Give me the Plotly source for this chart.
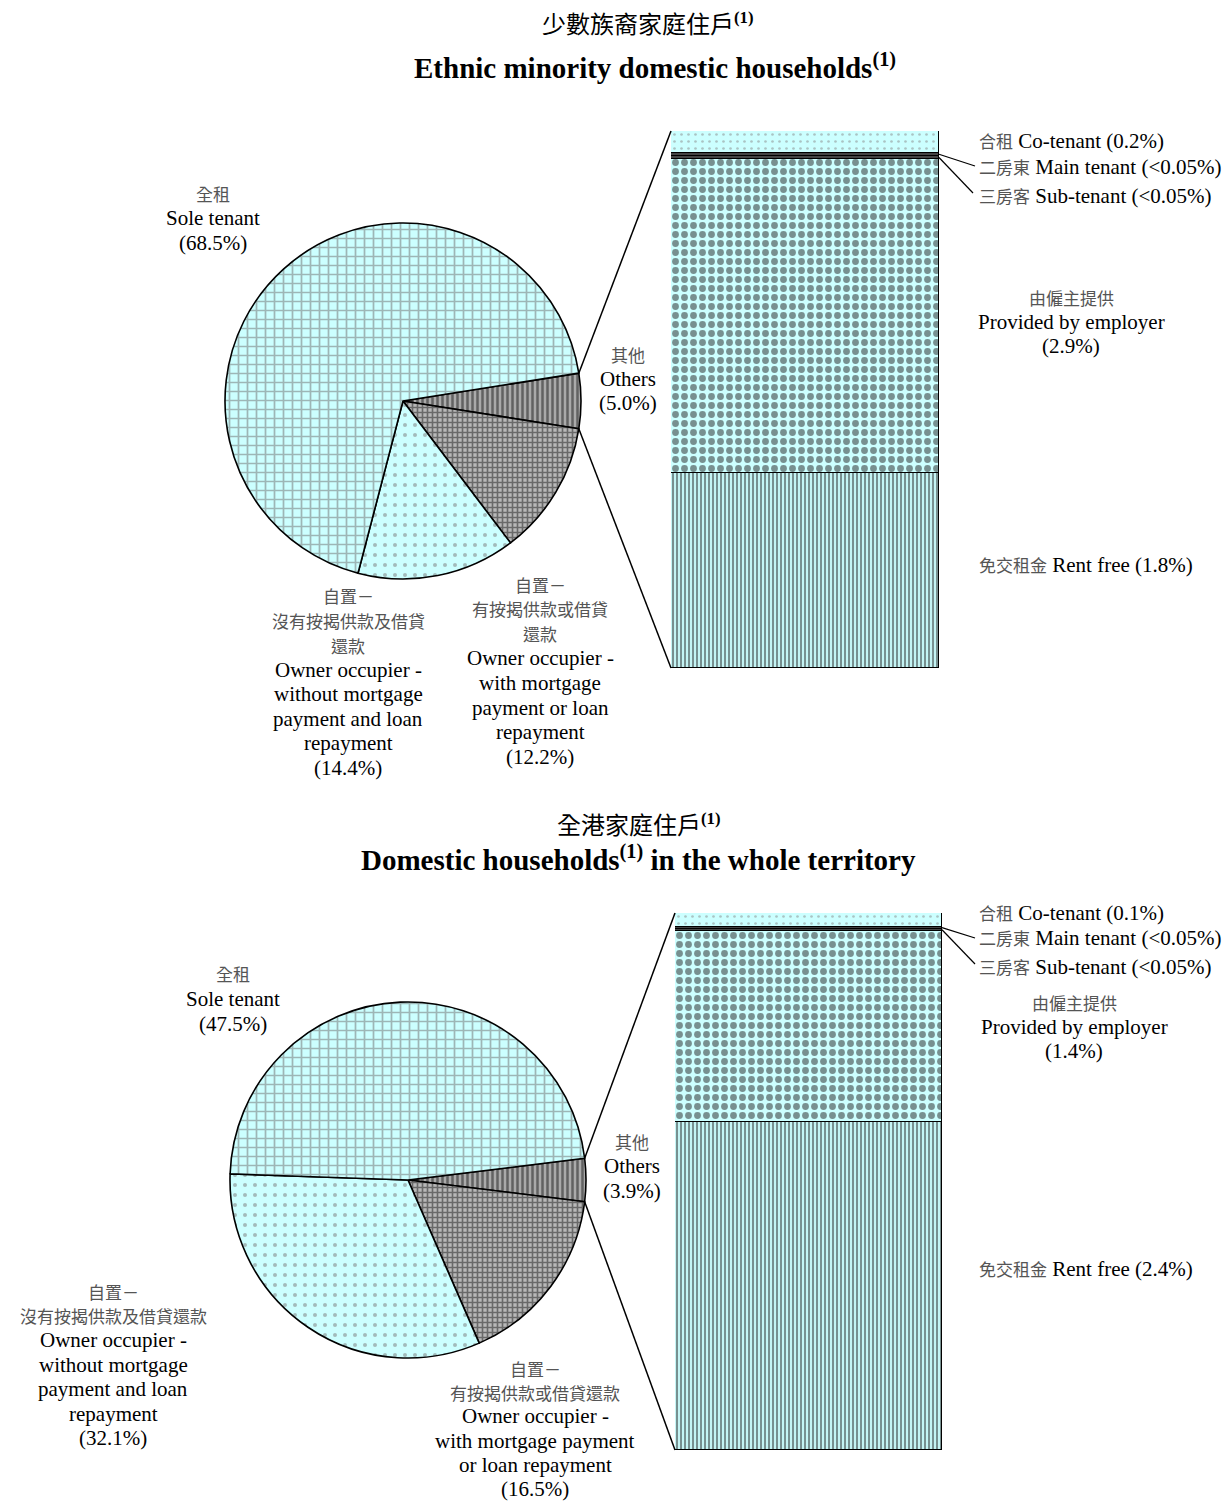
import math
import plotly.graph_objects as go

W, H = 1229, 1502

# ---------------- data ----------------
pie_zh = ["其他", "自置－有按揭供款或借貸還款", "自置－沒有按揭供款及借貸還款", "全租"]
pie_en = ["Others", "Owner occupier - with mortgage payment or loan repayment",
          "Owner occupier - without mortgage payment and loan repayment", "Sole tenant"]
em_pie = [5.0, 12.2, 14.4, 68.5]
all_pie = [3.9, 16.5, 32.1, 47.5]

bar_zh = ["免交租金", "由僱主提供", "三房客", "二房東", "合租"]
bar_en = ["Rent free", "Provided by employer", "Sub-tenant", "Main tenant", "Co-tenant"]
em_bar = [1.8, 2.9, 0.03, 0.03, 0.2]
em_bar_txt = ["1.8%", "2.9%", "<0.05%", "<0.05%", "0.2%"]
all_bar = [2.4, 1.4, 0.015, 0.015, 0.1]
all_bar_txt = ["2.4%", "1.4%", "<0.05%", "<0.05%", "0.1%"]

# ---------------- styles ----------------
CYAN = "#ccffff"
pie_bg = ["#aaaaaa", "#b8b8b8", CYAN, CYAN]
pie_fg = ["#1a1a1a", "#1a1a1a", "#777777", "#6e6e6e"]
pie_shape = ["|", "+", ".", "+"]
pie_size = [5, 5, 10, 9]
pie_sol = [0.5, 0.55, 0.13, 0.35]

bar_bg = [CYAN, CYAN, "#444444", "#444444", CYAN]
bar_fg = ["#222222", "#222222", "#222222", "#222222", "#888888"]
bar_shape = ["|", ".", "", "", "."]
bar_size = [4, 9, 4, 4, 7]
bar_sol = [0.55, 0.45, 0.3, 0.3, 0.12]

EN_FONT = "Liberation Serif, Times New Roman, serif"
ZH_FONT = "Noto Sans CJK TC, Noto Sans CJK SC, sans-serif"
EN_SIZE = 21
ZH_SIZE = 17
ZH_COLOR = "#555555"


def px(x):
    return x / W


def py(y):
    return 1 - y / H


panels = [
    dict(pie=em_pie, bar=em_bar, bar_txt=em_bar_txt,
         pie_box=(225, 223, 581, 579), bar_box=(671, 131, 939, 668),
         xa="x", ya="y", xl="xaxis", yl="yaxis",
         title_zh=("少數族裔家庭住戶", 648, 22),
         title_en=("Ethnic minority domestic households", "", 655, 66),
         main_target=(975, 166), sub_target=(973, 193)),
    dict(pie=all_pie, bar=all_bar, bar_txt=all_bar_txt,
         pie_box=(230, 1002, 586, 1358), bar_box=(675, 913, 942, 1450),
         xa="x2", ya="y2", xl="xaxis2", yl="yaxis2",
         title_zh=("全港家庭住戶", 639, 823),
         title_en=("Domestic households", " in the whole territory", 638, 858),
         main_target=(975, 938), sub_target=(975, 964)),
]

fig = go.Figure()
shapes = []
annots = []


def add_line(x, y, text, zh=False, anchor="center", size=None):
    annots.append(dict(
        x=px(x), y=py(y), xref="paper", yref="paper", text=text, showarrow=False,
        xanchor=anchor, yanchor="middle",
        font=dict(family=ZH_FONT if zh else EN_FONT,
                  size=size or (ZH_SIZE if zh else EN_SIZE),
                  color=ZH_COLOR if zh else "black")))


def add_block(x, y0, lines, step):
    for i, (t, zh) in enumerate(lines):
        add_line(x, y0 + i * step, t, zh)


def zh_span(t):
    return ('<span style="font-family:Noto Sans CJK TC;font-size:%dpx;color:%s">%s</span>'
            % (ZH_SIZE, ZH_COLOR, t))


for k, p in enumerate(panels):
    vals = p["pie"]
    rot = 90 - vals[0] * 3.6 / 2
    x0, y0, x1, y1 = p["pie_box"]
    fig.add_trace(go.Pie(
        values=vals, labels=pie_en, sort=False, direction="clockwise", rotation=rot,
        textinfo="none", hoverinfo="label+percent", showlegend=False,
        domain=dict(x=[px(x0), px(x1)], y=[py(y1), py(y0)]),
        marker=dict(colors=pie_bg, line=dict(color="black", width=1.6),
                    pattern=dict(shape=pie_shape, fgcolor=pie_fg, bgcolor=pie_bg,
                                 size=pie_size, solidity=pie_sol, fillmode="overlay"))))

    # bar of pie
    bx0, by0, bx1, by1 = p["bar_box"]
    total = sum(p["bar"])
    for i, v in enumerate(p["bar"]):
        fig.add_trace(go.Bar(
            x=[0], y=[v], width=1, xaxis=p["xa"], yaxis=p["ya"], showlegend=False,
            name=bar_en[i],
            marker=dict(color=bar_bg[i], line=dict(color="black", width=1.5),
                        pattern=dict(shape=bar_shape[i], fgcolor=bar_fg[i], bgcolor=bar_bg[i],
                                     size=bar_size[i], solidity=bar_sol[i], fillmode="overlay"))))
    fig.update_layout(**{
        p["xl"]: dict(domain=[px(bx0), px(bx1)], range=[-0.5, 0.5], visible=False, fixedrange=True),
        p["yl"]: dict(domain=[py(by1), py(by0)], range=[0, total], visible=False, fixedrange=True),
    })

    # connector lines from the "Others" slice to the bar
    cx, cy, r = (x0 + x1) / 2, (y0 + y1) / 2, (x1 - x0) / 2

    def pt(a):
        th = math.radians(90 - a)
        return cx + r * math.cos(th), cy - r * math.sin(th)

    ux, uy = pt(rot)
    lx, ly = pt(rot + vals[0] * 3.6)
    for (sx, sy), (ex, ey) in [((ux, uy), (bx0, by0)), ((lx, ly), (bx0, by1))]:
        shapes.append(dict(type="line", xref="paper", yref="paper",
                           x0=px(sx), y0=py(sy), x1=px(ex), y1=py(ey),
                           line=dict(color="black", width=1.5)))

    # leader lines for tiny segments
    def seg_mid(idx):
        cum = sum(p["bar"][:idx]) + p["bar"][idx] / 2
        return by1 - cum / total * (by1 - by0)

    for idx, tgt in [(3, p["main_target"]), (2, p["sub_target"])]:
        shapes.append(dict(type="line", xref="paper", yref="paper",
                           x0=px(bx1), y0=py(seg_mid(idx)), x1=px(tgt[0]), y1=py(tgt[1]),
                           line=dict(color="black", width=1.2)))

    # titles
    tz, tx, ty = p["title_zh"]
    annots.append(dict(x=px(tx), y=py(ty), xref="paper", yref="paper", showarrow=False,
                       xanchor="center", yanchor="middle",
                       text=tz + '<sup><span style="font-family:Liberation Serif"><b>(1)</b></span></sup>',
                       font=dict(family=ZH_FONT, size=24, color="black")))
    te1, te2, tx, ty = p["title_en"]
    annots.append(dict(x=px(tx), y=py(ty), xref="paper", yref="paper", showarrow=False,
                       xanchor="center", yanchor="middle",
                       text="<b>" + te1 + "<sup>(1)</sup>" + te2 + "</b>",
                       font=dict(family=EN_FONT, size=29, color="black")))

# ---------------- labels ----------------
tp, bp = em_pie, all_pie
tb, bb = em_bar_txt, all_bar_txt

# top panel
add_block(213, 193, [("全租", True), ("Sole tenant", False), ("(%.1f%%)" % tp[3], False)], 25)
add_block(628, 354, [("其他", True), ("Others", False), ("(%.1f%%)" % tp[0], False)], 24.5)
add_block(348, 596, [("自置－", True), ("沒有按揭供款及借貸", True), ("還款", True),
                     ("Owner occupier -", False), ("without mortgage", False),
                     ("payment and loan", False), ("repayment", False),
                     ("(%.1f%%)" % tp[2], False)], 24.57)
add_block(540, 584, [("自置－", True), ("有按揭供款或借貸", True), ("還款", True),
                     ("Owner occupier -", False), ("with mortgage", False),
                     ("payment or loan", False), ("repayment", False),
                     ("(%.1f%%)" % tp[1], False)], 24.7)
add_block(1071, 298, [("由僱主提供", True), ("Provided by employer", False), ("(%s)" % tb[1], False)], 24)
add_line(977, 141, zh_span("合租") + " Co-tenant (%s)" % tb[4], anchor="left")
add_line(977, 166, zh_span("二房東") + " Main tenant (%s)" % tb[3], anchor="left")
add_line(977, 195, zh_span("三房客") + " Sub-tenant (%s)" % tb[2], anchor="left")
add_line(977, 564, zh_span("免交租金") + " Rent free (%s)" % tb[0], anchor="left")

# bottom panel
add_block(233, 974, [("全租", True), ("Sole tenant", False), ("(%.1f%%)" % bp[3], False)], 25)
add_block(632, 1141, [("其他", True), ("Others", False), ("(%.1f%%)" % bp[0], False)], 25)
add_block(113, 1291, [("自置－", True), ("沒有按揭供款及借貸還款", True),
                      ("Owner occupier -", False), ("without mortgage", False),
                      ("payment and loan", False), ("repayment", False),
                      ("(%.1f%%)" % bp[2], False)], 24.5)
add_block(535, 1368, [("自置－", True), ("有按揭供款或借貸還款", True),
                      ("Owner occupier -", False), ("with mortgage payment", False),
                      ("or loan repayment", False), ("(%.1f%%)" % bp[1], False)], 24.2)
add_block(1074, 1002, [("由僱主提供", True), ("Provided by employer", False), ("(%s)" % bb[1], False)], 24.5)
add_line(977, 912, zh_span("合租") + " Co-tenant (%s)" % bb[4], anchor="left")
add_line(977, 937, zh_span("二房東") + " Main tenant (%s)" % bb[3], anchor="left")
add_line(977, 966, zh_span("三房客") + " Sub-tenant (%s)" % bb[2], anchor="left")
add_line(977, 1268, zh_span("免交租金") + " Rent free (%s)" % bb[0], anchor="left")

fig.update_layout(
    width=W, height=H, margin=dict(l=0, r=0, t=0, b=0),
    paper_bgcolor="white", plot_bgcolor="rgba(0,0,0,0)",
    barmode="stack", bargap=0, showlegend=False,
    shapes=shapes, annotations=annots,
)

fig.write_html("out.html", config={"displayModeBar": False},
               post_script="document.body.style.margin='0px';")
